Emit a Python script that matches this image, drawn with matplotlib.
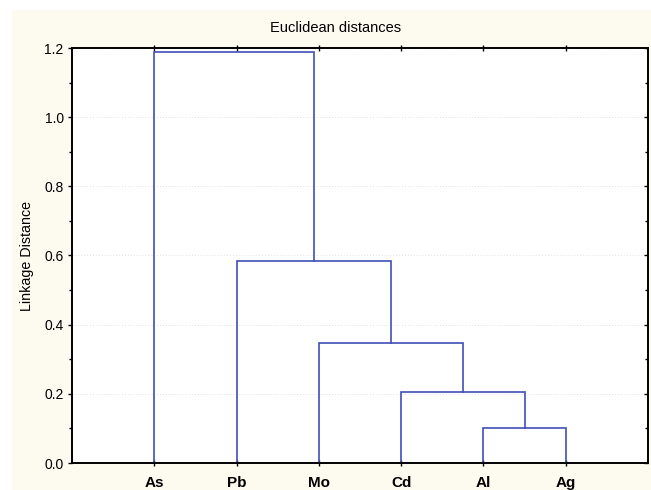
import matplotlib
matplotlib.use("Agg")
import matplotlib.pyplot as plt
from matplotlib.patches import Rectangle
from matplotlib.ticker import MultipleLocator

plt.rcParams['font.family'] = ['Liberation Sans', 'DejaVu Sans']

# Leaves in dendrogram order
leaves = ["As", "Pb", "Mo", "Cd", "Al", "Ag"]
# Merges: (left cluster, right cluster, height); clusters referenced by leaf name or merge index
merge_left = ["Al", "Cd", "Mo", "Pb", "As"]
merge_right = ["Ag", 0, 1, 2, 3]
merge_height = [0.10, 0.204, 0.346, 0.584, 1.189]
yticks = [0.0, 0.2, 0.4, 0.6, 0.8, 1.0, 1.2]

W, H = 651, 490
fig = plt.figure(figsize=(W / 100, H / 100), dpi=100, facecolor="white")
fig.patches.append(Rectangle((12 / W, 0), 1 - 12 / W, 1 - 10 / H, transform=fig.transFigure,
                             facecolor="#fdfaf0", edgecolor="none", zorder=-10))

ax = fig.add_axes([72 / W, (H - 463) / H, (648 - 72) / W, (463 - 48) / H])
ax.set_facecolor("white")

line_color = "#3f4fb5"
pos = {name: i + 1 for i, name in enumerate(leaves)}
hgt = {name: 0.0 for name in leaves}
for k, (l, r, h) in enumerate(zip(merge_left, merge_right, merge_height)):
    xl, yl = pos[l], hgt[l]
    xr, yr = pos[r], hgt[r]
    ax.plot([xl, xl, xr, xr], [yl, h, h, yr], color=line_color, lw=1.2,
            solid_joinstyle="miter", zorder=3)
    pos[k] = (xl + xr) / 2
    hgt[k] = h

ax.set_xlim(0, 7)
ax.set_ylim(0, 1.2)
ax.set_xticks(range(1, len(leaves) + 1))
ax.set_xticklabels(leaves, fontsize=11, fontweight="bold")
ax.set_yticks(yticks)
ax.set_yticklabels([f"{v:.1f}" for v in yticks], fontsize=10)
ax.yaxis.set_minor_locator(MultipleLocator(0.1))

ax.tick_params(axis="x", which="major", direction="inout", length=4, width=1,
               top=True, pad=7)
ax.tick_params(axis="y", which="major", direction="out", length=3, width=1, pad=3)
ax.tick_params(axis="y", which="minor", direction="out", length=2, width=1)

# right-side inward ticks
axr = ax.twinx()
axr.set_ylim(0, 1.2)
axr.set_yticks(yticks)
axr.yaxis.set_minor_locator(MultipleLocator(0.1))
axr.tick_params(axis="y", which="major", direction="in", length=3, width=1, labelright=False)
axr.tick_params(axis="y", which="minor", direction="in", length=2, width=1)

for a in (ax, axr):
    for s in a.spines.values():
        s.set_linewidth(1.2)
        s.set_color("black")

ax.grid(axis="y", which="major", color="#e0e0e0", linestyle=(0, (1, 2)), linewidth=0.7)
ax.set_axisbelow(True)

ax.set_ylabel("Linkage Distance", fontsize=10.3)
ax.yaxis.set_label_coords(-(72 - 34) / (648 - 72), 0.5)
fig.text(336 / W, 1 - 28 / H, "Euclidean distances", ha="center", va="center", fontsize=10.5)

fig.savefig("out.png", dpi=100, facecolor=fig.get_facecolor())
